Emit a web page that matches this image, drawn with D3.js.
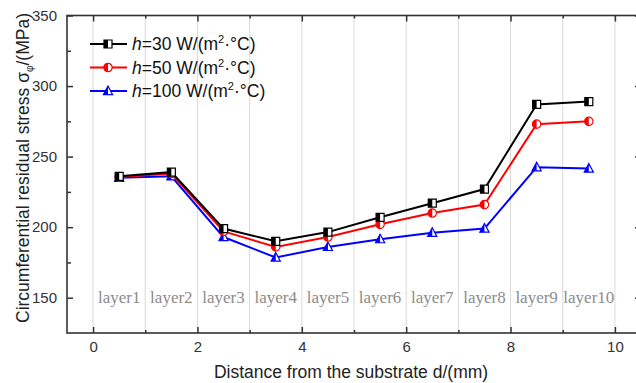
<!DOCTYPE html>
<html>
<head>
<meta charset="utf-8">
<script src="https://cdn.jsdelivr.net/npm/d3@7/dist/d3.min.js"></script>
<style>
  html, body { margin: 0; padding: 0; background: #fff; }
  svg { display: block; font-family: "Liberation Sans", Arial, sans-serif; }
</style>
</head>
<body>
<svg id="chart" width="636" height="383"></svg>
<script>
// Layer positions (mid-thickness of each deposited layer), in mm
const positions = [0.5, 1.5, 2.5, 3.5, 4.5, 5.5, 6.5, 7.5, 8.5, 9.5];
const layerLabels = ["layer1", "layer2", "layer3", "layer4", "layer5",
                     "layer6", "layer7", "layer8", "layer9", "layer10"];

// Circumferential residual stress (MPa) for each convection coefficient
const stressH30  = [236, 239, 199, 190, 196.5, 207, 217, 227, 287, 289];
const stressH50  = [235.5, 238, 197, 186, 193, 202, 210, 216, 273, 275];
const stressH100 = [235, 236, 193, 178.5, 186, 191.5, 196, 199, 242.5, 241.5];

const seriesNames = ["30", "50", "100"];

const xTicks = [0, 2, 4, 6, 8, 10];
const xMinorTicks = [1, 3, 5, 7, 9];
const yTicks = [150, 200, 250, 300, 350];
const yMinorTicks = [175, 225, 275, 325];

const svg = d3.select("#chart");
const plotLeft = 67, plotRight = 641, plotTop = 15.5, plotBottom = 333;

const x = d3.scaleLinear().domain([-0.5, 10.5]).range([plotLeft, plotRight]);
const y = d3.scaleLinear().domain([125, 350]).range([plotBottom, plotTop]);

const axisColor = "#333";

// vertical grid lines at every millimetre
svg.append("g")
  .selectAll("line")
  .data(d3.range(0, 11))
  .join("line")
  .attr("x1", d => x(d)).attr("x2", d => x(d))
  .attr("y1", plotTop).attr("y2", plotBottom)
  .attr("stroke", "#d9d9d9").attr("stroke-width", 1);

// layer labels
svg.append("g")
  .selectAll("text")
  .data(layerLabels)
  .join("text")
  .attr("x", (d, i) => x(positions[i]))
  .attr("y", y(150))
  .attr("dy", "0.3em")
  .attr("text-anchor", "middle")
  .attr("font-family", "'Liberation Serif', 'Times New Roman', serif")
  .attr("font-size", 17)
  .attr("fill", "#8c8c8c")
  .text(d => d);

// axes: ticks pointing into the plot
function styleAxis(g) {
  g.select(".domain").remove();
  g.selectAll(".tick line").attr("stroke", axisColor).attr("stroke-width", 1.5);
  g.selectAll(".tick text").attr("fill", axisColor).attr("font-size", 15)
    .attr("font-family", "'Liberation Sans', Arial, sans-serif");
}

svg.append("g").attr("transform", `translate(0,${plotBottom})`)
  .call(d3.axisBottom(x).tickValues(xTicks).tickSizeInner(-6).tickSizeOuter(0).tickPadding(8).tickFormat(d3.format("d")))
  .call(styleAxis);
svg.append("g").attr("transform", `translate(0,${plotBottom})`)
  .call(d3.axisBottom(x).tickValues(xMinorTicks).tickSizeInner(-3).tickSizeOuter(0).tickFormat(""))
  .call(styleAxis);
svg.append("g").attr("transform", `translate(0,${plotTop})`)
  .call(d3.axisTop(x).tickValues(xTicks).tickSizeInner(-6).tickSizeOuter(0).tickFormat(""))
  .call(styleAxis);
svg.append("g").attr("transform", `translate(0,${plotTop})`)
  .call(d3.axisTop(x).tickValues(xMinorTicks).tickSizeInner(-3).tickSizeOuter(0).tickFormat(""))
  .call(styleAxis);

svg.append("g").attr("transform", `translate(${plotLeft},0)`)
  .call(d3.axisLeft(y).tickValues(yTicks).tickSizeInner(-6).tickSizeOuter(0).tickPadding(10).tickFormat(d3.format("d")))
  .call(styleAxis);
svg.append("g").attr("transform", `translate(${plotLeft},0)`)
  .call(d3.axisLeft(y).tickValues(yMinorTicks).tickSizeInner(-4).tickSizeOuter(0).tickFormat(""))
  .call(styleAxis);
svg.append("g").attr("transform", `translate(${plotRight},0)`)
  .call(d3.axisRight(y).tickValues(yTicks).tickSizeInner(-6).tickSizeOuter(0).tickFormat(""))
  .call(styleAxis);
svg.append("g").attr("transform", `translate(${plotRight},0)`)
  .call(d3.axisRight(y).tickValues(yMinorTicks).tickSizeInner(-4).tickSizeOuter(0).tickFormat(""))
  .call(styleAxis);

// frame
svg.append("rect")
  .attr("x", plotLeft).attr("y", plotTop)
  .attr("width", plotRight - plotLeft).attr("height", plotBottom - plotTop)
  .attr("fill", "none").attr("stroke", axisColor).attr("stroke-width", 1.6);

// half-filled marker shapes: [outline, filled left half]
const shapes = {
  square: ["M-4,-4H4V4H-4Z", "M-4,-4H0V4H-4Z"],
  circle: ["M0,-4.2A4.2,4.2 0 1,1 0,4.2A4.2,4.2 0 1,1 0,-4.2Z", "M0,-4.2A4.2,4.2 0 0,0 0,4.2Z"],
  triangle: ["M0,-5L4.6,3.6H-4.6Z", "M0,-5L-4.6,3.6H0Z"]
};

const series = [
  { name: seriesNames[0], values: stressH30,  color: "#000000", shape: "square" },
  { name: seriesNames[1], values: stressH50,  color: "#ff0000", shape: "circle" },
  { name: seriesNames[2], values: stressH100, color: "#0000ff", shape: "triangle" }
];

function drawMarker(g, cx, cy, s) {
  const m = g.append("g").attr("transform", `translate(${cx},${cy})`);
  m.append("path").attr("d", shapes[s.shape][0]).attr("fill", "#fff")
    .attr("stroke", s.color).attr("stroke-width", 1.2);
  m.append("path").attr("d", shapes[s.shape][1]).attr("fill", s.color);
}

const line = d3.line().x((d, i) => x(positions[i])).y(d => y(d));

// draw lower series first so the h=30 curve sits on top
[...series].reverse().forEach(s => {
  const g = svg.append("g");
  g.append("path").datum(s.values)
    .attr("d", line).attr("fill", "none")
    .attr("stroke", s.color).attr("stroke-width", 2);
  s.values.forEach((v, i) => drawMarker(g, x(positions[i]), y(v), s));
});

// legend
const legend = svg.append("g");
series.forEach((s, i) => {
  const ly = 44 + i * 23.5;
  const g = legend.append("g");
  g.append("line").attr("x1", 90).attr("x2", 127).attr("y1", ly).attr("y2", ly)
    .attr("stroke", s.color).attr("stroke-width", 2);
  drawMarker(g, 108, ly, s);
  const t = g.append("text").attr("x", 132).attr("y", ly + 6)
    .attr("font-size", 17.5).attr("fill", "#111");
  t.append("tspan").attr("font-style", "italic").text("h");
  t.append("tspan").text(`=${s.name} W/(m`);
  t.append("tspan").attr("font-size", 11).attr("dy", -7).text("2");
  t.append("tspan").attr("dy", 7).text("·°C)");
});

// axis titles
svg.append("text")
  .attr("x", 351).attr("y", 378)
  .attr("text-anchor", "middle").attr("font-size", 17.5).attr("fill", "#222")
  .text("Distance from the substrate d/(mm)");

const yt = svg.append("text")
  .attr("transform", `translate(29,168) rotate(-90)`)
  .attr("text-anchor", "middle").attr("font-size", 17.5).attr("fill", "#222");
yt.append("tspan").text("Circumferential residual stress σ");
yt.append("tspan").attr("font-size", 10).attr("dy", 4).text("φ");
yt.append("tspan").attr("dy", -4).text("/(MPa)");
</script>
</body>
</html>
